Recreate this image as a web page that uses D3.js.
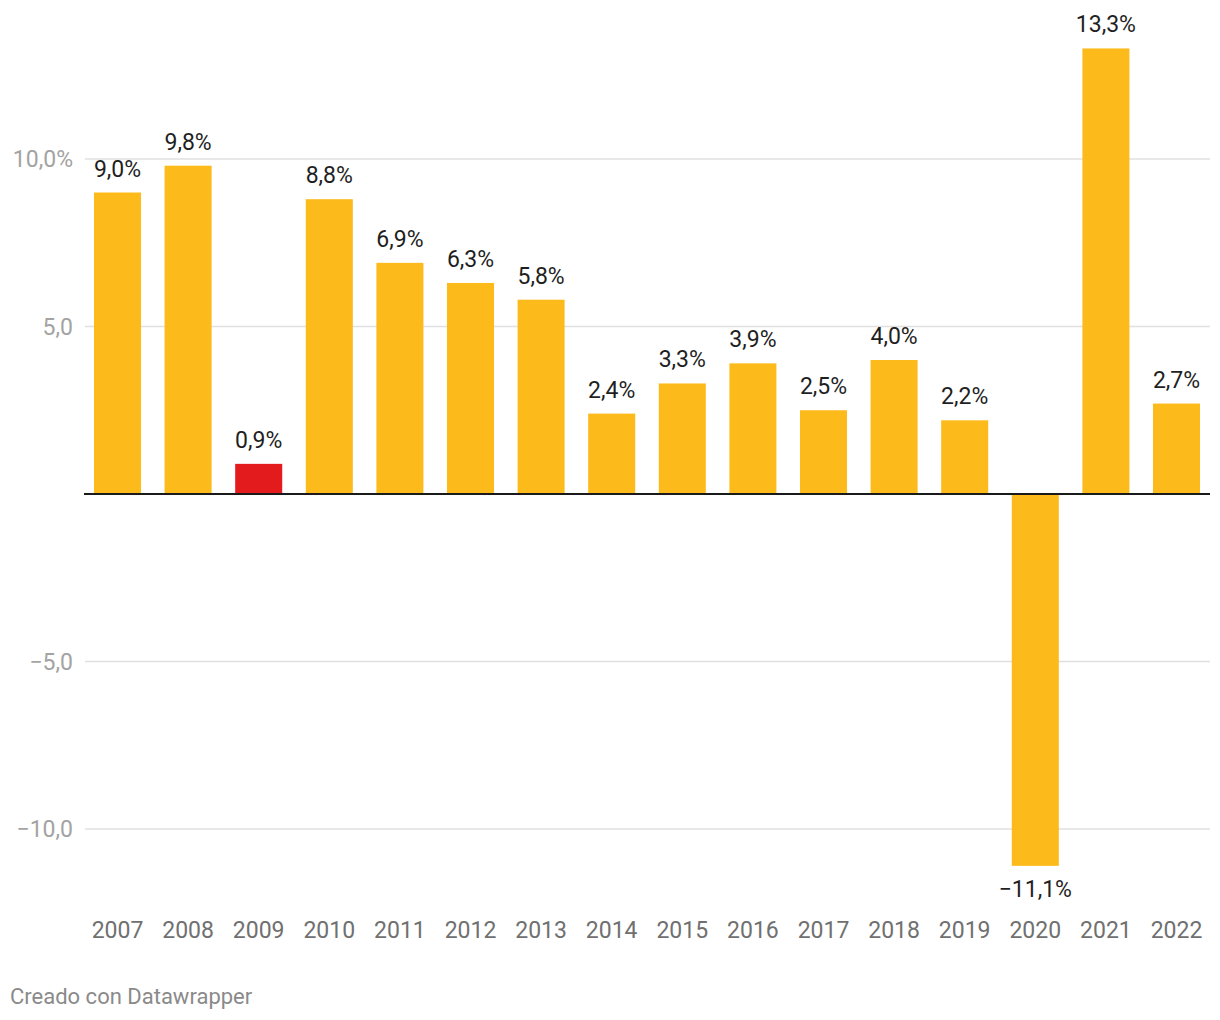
<!DOCTYPE html>
<html>
<head>
<meta charset="utf-8">
<script src="https://cdn.jsdelivr.net/npm/d3@7"></script>
<style>
html,body{margin:0;padding:0;background:#fff;}
svg{display:block;font-family:Roboto,"Noto Sans",sans-serif;}
</style>
</head>
<body>
<svg id="chart" width="1220" height="1020"></svg>
<script>
const years = ["2007","2008","2009","2010","2011","2012","2013","2014","2015","2016","2017","2018","2019","2020","2021","2022"];
const values = [9.0, 9.8, 0.9, 8.8, 6.9, 6.3, 5.8, 2.4, 3.3, 3.9, 2.5, 4.0, 2.2, -11.1, 13.3, 2.7];
const highlight = ["2009"];
const yTicks = [-10, -5, 5, 10];
const yTickLabels = ["−10,0", "−5,0", "5,0", "10,0%"];

const locale = d3.formatLocale({decimal: ",", thousands: ".", grouping: [3], currency: ["", "€"], minus: "−"});
const fmt = v => locale.format(".1f")(v) + "%";

const svg = d3.select("#chart");
const x = d3.scaleBand().domain(years).range([82.2, 1211.8]).paddingInner(0.334).paddingOuter(0.167);
const y = d3.scaleLinear().domain([-12, 14]).range([494 + 12 * 33.5, 494 - 14 * 33.5]);

// grid
svg.append("g").selectAll("line").data(yTicks).join("line")
  .attr("x1", 85).attr("x2", 1210)
  .attr("y1", d => y(d)).attr("y2", d => y(d))
  .attr("stroke", "#e0e0e0").attr("stroke-width", 1.5);

svg.append("g").selectAll("text").data(yTicks).join("text")
  .attr("x", 73).attr("y", d => y(d)).attr("dy", "0.36em")
  .attr("text-anchor", "end").attr("font-size", 23).attr("fill", "#a3a3a3")
  .text((d, i) => yTickLabels[i]);

// bars
svg.append("g").selectAll("rect").data(years).join("rect")
  .attr("x", d => x(d)).attr("width", x.bandwidth())
  .attr("y", (d, i) => y(Math.max(0, values[i])))
  .attr("height", (d, i) => Math.abs(y(values[i]) - y(0)))
  .attr("fill", d => highlight.includes(d) ? "#e31b1c" : "#fdbb1b");

// zero line
svg.append("line").attr("x1", 84).attr("x2", 1210).attr("y1", y(0)).attr("y2", y(0))
  .attr("stroke", "#1a1a1a").attr("stroke-width", 2);

// value labels
svg.append("g").selectAll("text").data(years).join("text")
  .attr("x", d => x(d) + x.bandwidth() / 2)
  .attr("y", (d, i) => values[i] >= 0 ? y(values[i]) - 16 : y(values[i]) + 31)
  .attr("text-anchor", "middle").attr("font-size", 23).attr("fill", "#1f1f1f")
  .text((d, i) => fmt(values[i]));

// x axis labels
svg.append("g").selectAll("text").data(years).join("text")
  .attr("x", d => x(d) + x.bandwidth() / 2).attr("y", 938)
  .attr("text-anchor", "middle").attr("font-size", 23).attr("fill", "#707070")
  .text(d => d);

svg.append("text").attr("x", 10).attr("y", 1004).attr("font-size", 22).attr("fill", "#8a8a8a")
  .text("Creado con Datawrapper");
</script>
</body>
</html>
